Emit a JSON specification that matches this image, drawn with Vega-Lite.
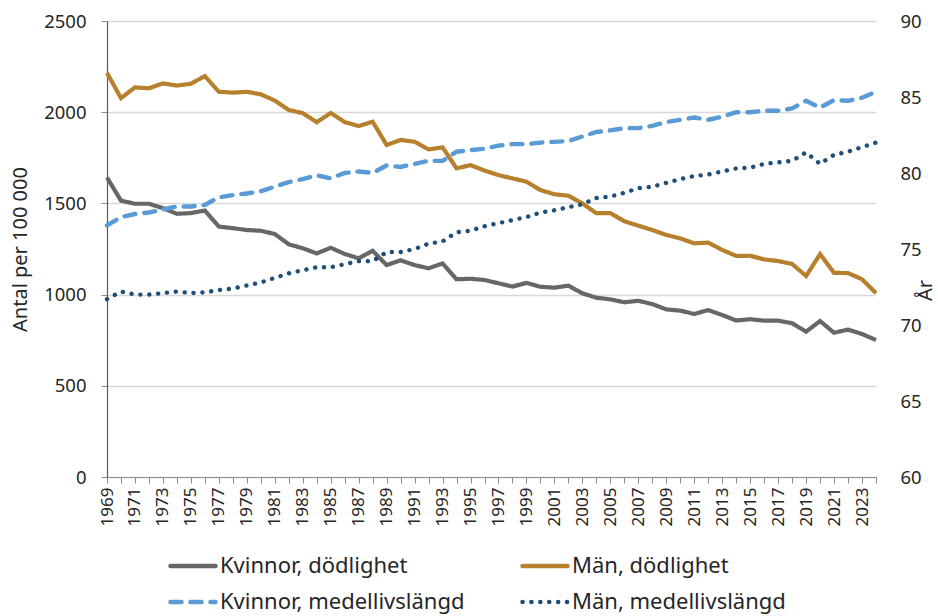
{
  "$schema": "https://vega.github.io/schema/vega-lite/v6.json",
  "width": 769,
  "height": 456,
  "autosize": {"type": "none"},
  "padding": {"left": 107, "top": 21, "right": 62, "bottom": 139},
  "background": "white",
  "config": {
    "font": "Noto Sans",
    "view": {"stroke": null},
    "axis": {"labelColor": "#262626", "titleColor": "#262626", "titleFontWeight": "normal"}
  },
  "data": {
    "values": [
      {"year": 1969, "Kvinnor, dödlighet": 1642, "Män, dödlighet": 2216, "Kvinnor, medellivslängd": 76.55, "Män, medellivslängd": 71.7},
      {"year": 1970, "Kvinnor, dödlighet": 1515, "Män, dödlighet": 2077, "Kvinnor, medellivslängd": 77.1, "Män, medellivslängd": 72.2},
      {"year": 1971, "Kvinnor, dödlighet": 1498, "Män, dödlighet": 2136, "Kvinnor, medellivslängd": 77.3, "Män, medellivslängd": 72.0},
      {"year": 1972, "Kvinnor, dödlighet": 1498, "Män, dödlighet": 2131, "Kvinnor, medellivslängd": 77.4, "Män, medellivslängd": 72.0},
      {"year": 1973, "Kvinnor, dödlighet": 1474, "Män, dödlighet": 2158, "Kvinnor, medellivslängd": 77.6, "Män, medellivslängd": 72.1},
      {"year": 1974, "Kvinnor, dödlighet": 1443, "Män, dödlighet": 2146, "Kvinnor, medellivslängd": 77.8, "Män, medellivslängd": 72.2},
      {"year": 1975, "Kvinnor, dödlighet": 1447, "Män, dödlighet": 2156, "Kvinnor, medellivslängd": 77.8, "Män, medellivslängd": 72.1},
      {"year": 1976, "Kvinnor, dödlighet": 1461, "Män, dödlighet": 2198, "Kvinnor, medellivslängd": 77.9, "Män, medellivslängd": 72.15},
      {"year": 1977, "Kvinnor, dödlighet": 1373, "Män, dödlighet": 2112, "Kvinnor, medellivslängd": 78.4, "Män, medellivslängd": 72.3},
      {"year": 1978, "Kvinnor, dödlighet": 1364, "Män, dödlighet": 2107, "Kvinnor, medellivslängd": 78.55, "Män, medellivslängd": 72.4},
      {"year": 1979, "Kvinnor, dödlighet": 1354, "Män, dödlighet": 2112, "Kvinnor, medellivslängd": 78.65, "Män, medellivslängd": 72.6},
      {"year": 1980, "Kvinnor, dödlighet": 1350, "Män, dödlighet": 2098, "Kvinnor, medellivslängd": 78.8, "Män, medellivslängd": 72.8},
      {"year": 1981, "Kvinnor, dödlighet": 1332, "Män, dödlighet": 2064, "Kvinnor, medellivslängd": 79.1, "Män, medellivslängd": 73.1},
      {"year": 1982, "Kvinnor, dödlighet": 1276, "Män, dödlighet": 2012, "Kvinnor, medellivslängd": 79.4, "Män, medellivslängd": 73.4},
      {"year": 1983, "Kvinnor, dödlighet": 1254, "Män, dödlighet": 1995, "Kvinnor, medellivslängd": 79.6, "Män, medellivslängd": 73.6},
      {"year": 1984, "Kvinnor, dödlighet": 1226, "Män, dödlighet": 1945, "Kvinnor, medellivslängd": 79.85, "Män, medellivslängd": 73.8},
      {"year": 1985, "Kvinnor, dödlighet": 1257, "Män, dödlighet": 1996, "Kvinnor, medellivslängd": 79.65, "Män, medellivslängd": 73.8},
      {"year": 1986, "Kvinnor, dödlighet": 1223, "Män, dödlighet": 1946, "Kvinnor, medellivslängd": 80.0, "Män, medellivslängd": 74.0},
      {"year": 1987, "Kvinnor, dödlighet": 1199, "Män, dödlighet": 1924, "Kvinnor, medellivslängd": 80.1, "Män, medellivslängd": 74.2},
      {"year": 1988, "Kvinnor, dödlighet": 1240, "Män, dödlighet": 1948, "Kvinnor, medellivslängd": 80.0, "Män, medellivslängd": 74.2},
      {"year": 1989, "Kvinnor, dödlighet": 1162, "Män, dödlighet": 1820, "Kvinnor, medellivslängd": 80.5, "Män, medellivslängd": 74.8},
      {"year": 1990, "Kvinnor, dödlighet": 1188, "Män, dödlighet": 1848, "Kvinnor, medellivslängd": 80.4, "Män, medellivslängd": 74.8},
      {"year": 1991, "Kvinnor, dödlighet": 1162, "Män, dödlighet": 1838, "Kvinnor, medellivslängd": 80.6, "Män, medellivslängd": 75.0},
      {"year": 1992, "Kvinnor, dödlighet": 1144, "Män, dödlighet": 1796, "Kvinnor, medellivslängd": 80.8, "Män, medellivslängd": 75.35},
      {"year": 1993, "Kvinnor, dödlighet": 1171, "Män, dödlighet": 1807, "Kvinnor, medellivslängd": 80.8, "Män, medellivslängd": 75.5},
      {"year": 1994, "Kvinnor, dödlighet": 1084, "Män, dödlighet": 1692, "Kvinnor, medellivslängd": 81.4, "Män, medellivslängd": 76.1},
      {"year": 1995, "Kvinnor, dödlighet": 1087, "Män, dödlighet": 1710, "Kvinnor, medellivslängd": 81.5, "Män, medellivslängd": 76.2},
      {"year": 1996, "Kvinnor, dödlighet": 1080, "Män, dödlighet": 1680, "Kvinnor, medellivslängd": 81.6, "Män, medellivslängd": 76.5},
      {"year": 1997, "Kvinnor, dödlighet": 1062, "Män, dödlighet": 1655, "Kvinnor, medellivslängd": 81.8, "Män, medellivslängd": 76.7},
      {"year": 1998, "Kvinnor, dödlighet": 1044, "Män, dödlighet": 1637, "Kvinnor, medellivslängd": 81.9, "Män, medellivslängd": 76.9},
      {"year": 1999, "Kvinnor, dödlighet": 1064, "Män, dödlighet": 1619, "Kvinnor, medellivslängd": 81.9, "Män, medellivslängd": 77.1},
      {"year": 2000, "Kvinnor, dödlighet": 1043, "Män, dödlighet": 1573, "Kvinnor, medellivslängd": 82.0, "Män, medellivslängd": 77.4},
      {"year": 2001, "Kvinnor, dödlighet": 1038, "Män, dödlighet": 1550, "Kvinnor, medellivslängd": 82.05, "Män, medellivslängd": 77.55},
      {"year": 2002, "Kvinnor, dödlighet": 1049, "Män, dödlighet": 1542, "Kvinnor, medellivslängd": 82.1, "Män, medellivslängd": 77.75},
      {"year": 2003, "Kvinnor, dödlighet": 1007, "Män, dödlighet": 1500, "Kvinnor, medellivslängd": 82.4, "Män, medellivslängd": 77.95},
      {"year": 2004, "Kvinnor, dödlighet": 983, "Män, dödlighet": 1446, "Kvinnor, medellivslängd": 82.7, "Män, medellivslängd": 78.35},
      {"year": 2005, "Kvinnor, dödlighet": 974, "Män, dödlighet": 1447, "Kvinnor, medellivslängd": 82.8, "Män, medellivslängd": 78.45},
      {"year": 2006, "Kvinnor, dödlighet": 958, "Män, dödlighet": 1402, "Kvinnor, medellivslängd": 82.95, "Män, medellivslängd": 78.7},
      {"year": 2007, "Kvinnor, dödlighet": 966, "Män, dödlighet": 1378, "Kvinnor, medellivslängd": 82.95, "Män, medellivslängd": 79.0},
      {"year": 2008, "Kvinnor, dödlighet": 948, "Män, dödlighet": 1354, "Kvinnor, medellivslängd": 83.1, "Män, medellivslängd": 79.1},
      {"year": 2009, "Kvinnor, dödlighet": 919, "Män, dödlighet": 1327, "Kvinnor, medellivslängd": 83.35, "Män, medellivslängd": 79.35},
      {"year": 2010, "Kvinnor, dödlighet": 912, "Män, dödlighet": 1308, "Kvinnor, medellivslängd": 83.5, "Män, medellivslängd": 79.6},
      {"year": 2011, "Kvinnor, dödlighet": 894, "Män, dödlighet": 1281, "Kvinnor, medellivslängd": 83.65, "Män, medellivslängd": 79.8},
      {"year": 2012, "Kvinnor, dödlighet": 915, "Män, dödlighet": 1285, "Kvinnor, medellivslängd": 83.5, "Män, medellivslängd": 79.9},
      {"year": 2013, "Kvinnor, dödlighet": 888, "Män, dödlighet": 1245, "Kvinnor, medellivslängd": 83.7, "Män, medellivslängd": 80.1},
      {"year": 2014, "Kvinnor, dödlighet": 858, "Män, dödlighet": 1212, "Kvinnor, medellivslängd": 84.0, "Män, medellivslängd": 80.3},
      {"year": 2015, "Kvinnor, dödlighet": 865, "Män, dödlighet": 1213, "Kvinnor, medellivslängd": 84.0, "Män, medellivslängd": 80.35},
      {"year": 2016, "Kvinnor, dödlighet": 857, "Män, dödlighet": 1193, "Kvinnor, medellivslängd": 84.1, "Män, medellivslängd": 80.6},
      {"year": 2017, "Kvinnor, dödlighet": 857, "Män, dödlighet": 1184, "Kvinnor, medellivslängd": 84.1, "Män, medellivslängd": 80.7},
      {"year": 2018, "Kvinnor, dödlighet": 843, "Män, dödlighet": 1168, "Kvinnor, medellivslängd": 84.25, "Män, medellivslängd": 80.8},
      {"year": 2019, "Kvinnor, dödlighet": 797, "Män, dödlighet": 1102, "Kvinnor, medellivslängd": 84.75, "Män, medellivslängd": 81.35},
      {"year": 2020, "Kvinnor, dödlighet": 855, "Män, dödlighet": 1222, "Kvinnor, medellivslängd": 84.3, "Män, medellivslängd": 80.6},
      {"year": 2021, "Kvinnor, dödlighet": 791, "Män, dödlighet": 1119, "Kvinnor, medellivslängd": 84.8, "Män, medellivslängd": 81.2},
      {"year": 2022, "Kvinnor, dödlighet": 808, "Män, dödlighet": 1118, "Kvinnor, medellivslängd": 84.75, "Män, medellivslängd": 81.4},
      {"year": 2023, "Kvinnor, dödlighet": 784, "Män, dödlighet": 1084, "Kvinnor, medellivslängd": 84.95, "Män, medellivslängd": 81.7},
      {"year": 2024, "Kvinnor, dödlighet": 751, "Män, dödlighet": 1008, "Kvinnor, medellivslängd": 85.35, "Män, medellivslängd": 82.0}
    ]
  },
  "transform": [
    {"fold": ["Kvinnor, dödlighet", "Män, dödlighet", "Kvinnor, medellivslängd", "Män, medellivslängd"], "as": ["serie", "value"]}
  ],
  "encoding": {
    "x": {
      "field": "year",
      "type": "quantitative",
      "scale": {"domain": [1969, 2024], "nice": false, "zero": false},
      "axis": {
        "title": null,
        "grid": false,
        "values": [1969,1970,1971,1972,1973,1974,1975,1976,1977,1978,1979,1980,1981,1982,1983,1984,1985,1986,1987,1988,1989,1990,1991,1992,1993,1994,1995,1996,1997,1998,1999,2000,2001,2002,2003,2004,2005,2006,2007,2008,2009,2010,2011,2012,2013,2014,2015,2016,2017,2018,2019,2020,2021,2022,2023,2024],
        "labelExpr": "datum.value % 2 == 1 ? datum.value : ''",
        "labelAngle": -90,
        "labelAlign": "right",
        "labelBaseline": "middle",
        "labelFontSize": 17,
        "labelPadding": 4,
        "labelOverlap": false,
        "labelFlush": false,
        "tickSize": 6,
        "tickColor": "#8c8c8c",
        "domainColor": "#8c8c8c",
        "domainWidth": 1.2
      }
    }
  },
  "layer": [
    {
      "transform": [{"filter": {"field": "serie", "oneOf": ["Kvinnor, dödlighet", "Män, dödlighet"]}}],
      "mark": {"type": "line", "strokeWidth": 4.2, "strokeJoin": "miter"},
      "encoding": {
        "y": {
          "field": "value",
          "type": "quantitative",
          "scale": {"domain": [0, 2500], "nice": false},
          "axis": {
            "title": "Antal per 100 000",
            "titleFontSize": 20,
            "titlePadding": 13,
            "values": [0, 500, 1000, 1500, 2000, 2500],
            "format": "d",
            "labelFontSize": 18.5,
            "labelPadding": 15,
            "tickSize": 6,
            "tickColor": "#8c8c8c",
            "domainColor": "#595959",
            "domainWidth": 1.2,
            "grid": true,
            "gridColor": "#d9d9d9",
            "gridWidth": 1.3
          }
        },
        "color": {
          "field": "serie",
          "type": "nominal",
          "scale": {
            "domain": ["Kvinnor, dödlighet", "Män, dödlighet", "Kvinnor, medellivslängd", "Män, medellivslängd"],
            "range": ["#676767", "#B7802D", "#5B9BD5", "#1F4E79"]
          },
          "legend": {
            "title": null,
            "orient": "none",
            "legendX": 61,
            "legendY": 520,
            "direction": "horizontal",
            "columns": 2,
            "columnPadding": 48,
            "rowPadding": -4,
            "symbolType": "stroke",
            "symbolSize": 2025,
            "symbolStrokeWidth": 4.5,
            "labelFontSize": 22,
            "labelColor": "#262626",
            "labelOffset": 2,
            "labelLimit": 400,
            "encode": {"symbols": {"update": {"strokeCap": {"value": "round"}}}}
          }
        },
        "strokeDash": {
          "field": "serie",
          "type": "nominal",
          "scale": {
            "domain": ["Kvinnor, dödlighet", "Män, dödlighet", "Kvinnor, medellivslängd", "Män, medellivslängd"],
            "range": [[1, 0], [1, 0], [11, 9], [0.1, 8.8]]
          },
          "legend": {
            "title": null,
            "orient": "none",
            "legendX": 61,
            "legendY": 520,
            "direction": "horizontal",
            "columns": 2,
            "columnPadding": 48,
            "rowPadding": -4,
            "symbolType": "stroke",
            "symbolSize": 2025,
            "symbolStrokeWidth": 4.5,
            "labelFontSize": 22,
            "labelColor": "#262626",
            "labelOffset": 2,
            "labelLimit": 400,
            "encode": {"symbols": {"update": {"strokeCap": {"value": "round"}}}}
          }
        }
      }
    },
    {
      "transform": [{"filter": {"field": "serie", "oneOf": ["Kvinnor, medellivslängd", "Män, medellivslängd"]}}],
      "mark": {"type": "line", "strokeWidth": 4.4, "strokeCap": "round"},
      "encoding": {
        "y": {
          "field": "value",
          "type": "quantitative",
          "scale": {"domain": [60, 90], "nice": false, "zero": false},
          "axis": {
            "orient": "right",
            "title": "År",
            "titleFontSize": 20,
            "titleAngle": 270,
            "titleAlign": "center",
            "titleBaseline": "middle",
            "titleX": 49,
            "titleY": 269,
            "values": [60, 65, 70, 75, 80, 85, 90],
            "labelFontSize": 18.5,
            "labelPadding": 24,
            "ticks": false,
            "domain": false,
            "grid": false
          }
        },
        "color": {"field": "serie", "type": "nominal"},
        "strokeDash": {"field": "serie", "type": "nominal"}
      }
    }
  ],
  "resolve": {"scale": {"y": "independent"}}
}
